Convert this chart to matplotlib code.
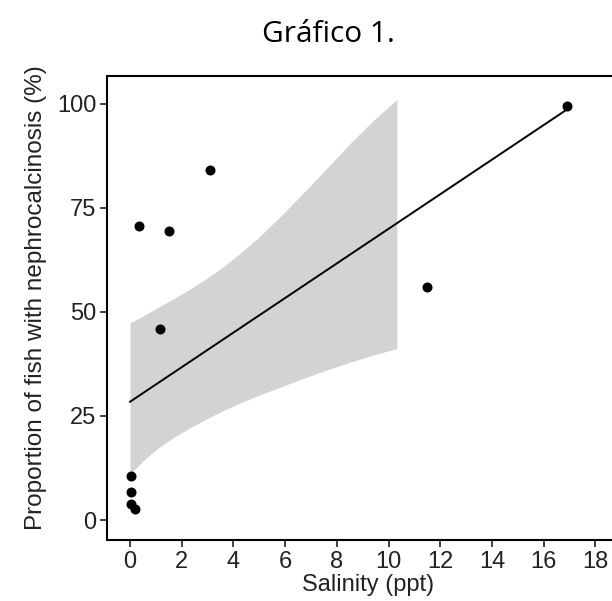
import matplotlib
matplotlib.use("Agg")
import matplotlib.pyplot as plt

# observed points (salinity ppt, % fish with nephrocalcinosis)
salinity = [0.05, 0.05, 0.05, 0.18, 0.35, 1.15, 1.5, 3.1, 11.5, 16.9]
proportion = [10.6, 6.8, 3.8, 2.6, 70.7, 45.9, 69.4, 84.1, 56.0, 99.4]

# fitted line end points
fit_x = [0.0, 16.9]
fit_y = [28.4, 98.6]

# confidence band
band_x = [0.0, 0.5, 1.09, 1.7, 2.39, 3.0, 3.67, 4.3, 4.96, 5.93, 7.22, 8.51, 9.4, 10.32]
band_upper = [47.3, 49.0, 51.1, 53.2, 55.7, 58.2, 61.1, 64.3, 67.8, 73.6, 81.9, 90.4, 95.9, 101.0]
band_lower = [11.0, 14.2, 17.3, 19.9, 22.4, 24.4, 26.5, 28.2, 29.9, 32.2, 35.2, 37.9, 39.6, 41.2]

xticks = [0, 2, 4, 6, 8, 10, 12, 14, 16, 18]
yticks = [0, 25, 50, 75, 100]

txt = "#222222"
plt.rcParams['font.family'] = ['Liberation Sans', 'DejaVu Sans']

fig = plt.figure(figsize=(6.12, 6.01), dpi=100)
ax = fig.add_axes([0.1753, 0.1015, 0.8525, 0.7725])

ax.fill_between(band_x, band_lower, band_upper, color="#d3d3d3", lw=0, zorder=1)
ax.plot(fit_x, fit_y, color="black", lw=1.4, zorder=2)
ax.scatter(salinity, proportion, s=52, color="black", zorder=3, linewidths=0)

ax.set_xlim(-0.88, 19.3)
ax.set_ylim(-4.8, 106.7)
ax.set_xticks(xticks)
ax.set_yticks(yticks)

for s in ax.spines.values():
    s.set_linewidth(1.5)
    s.set_color("black")

ax.tick_params(direction="out", length=5, width=1.3, color="#333333",
               labelsize=17, labelcolor=txt, pad=3)
ax.set_xlabel("Salinity (ppt)", fontsize=17, color=txt, labelpad=1)
ax.set_ylabel("Proportion of fish with nephrocalcinosis (%)", fontsize=17.5,
              color=txt)
ax.yaxis.set_label_coords(-0.115, 0.522)

fig.text(0.537, 0.943, "Gráfico 1.", ha="center", va="center", fontsize=21.5,
         family=["Open Sans", "DejaVu Sans"], color="black")

fig.savefig("out.png", dpi=100)
